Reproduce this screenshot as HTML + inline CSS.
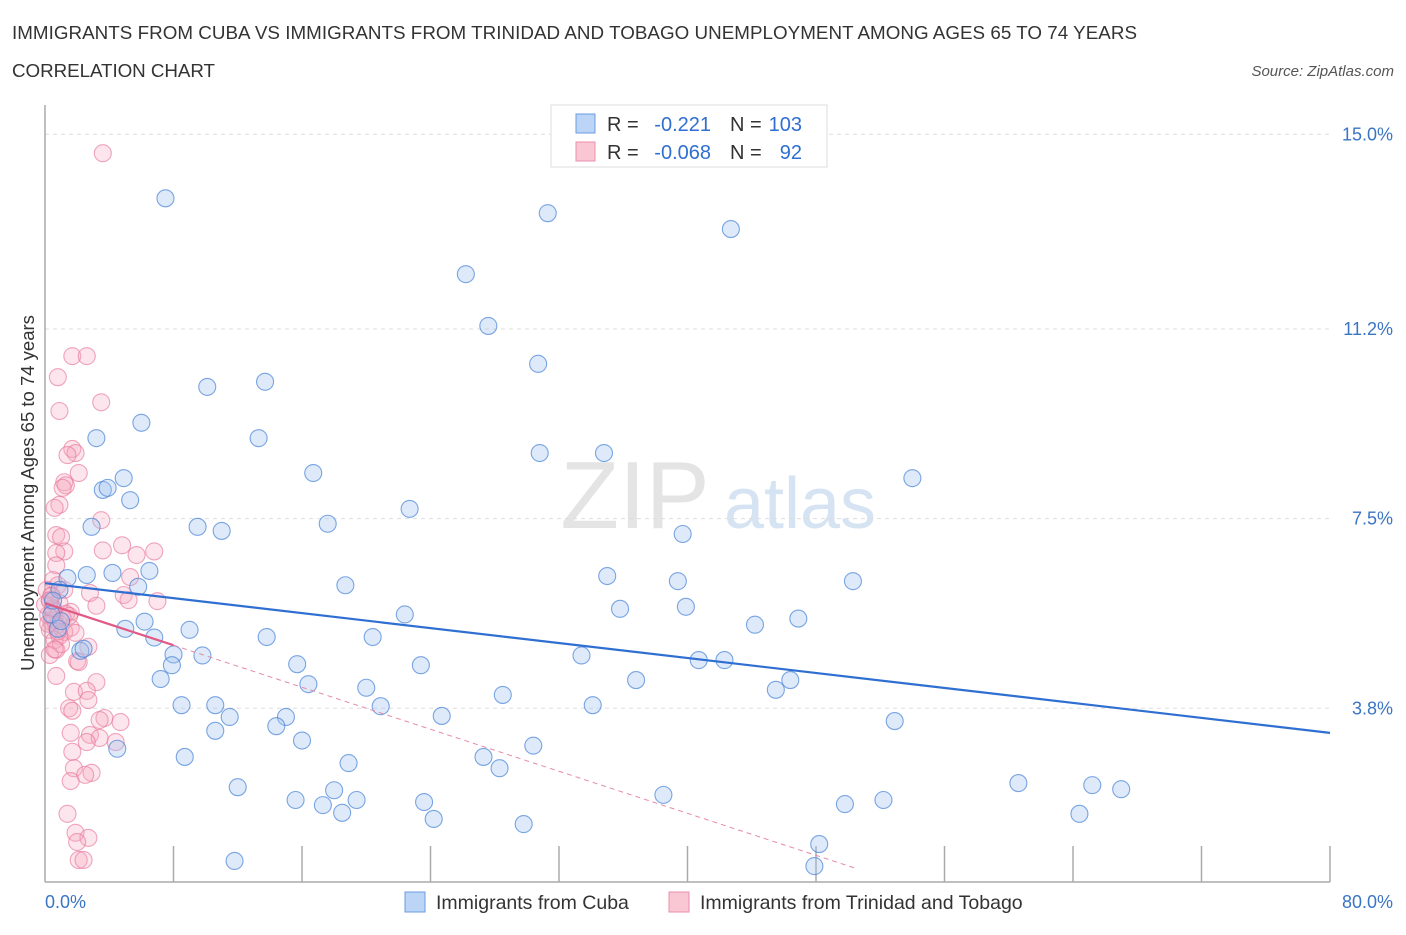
<!DOCTYPE html>
<html><head><meta charset="utf-8">
<style>
body{margin:0;background:#fff;font-family:"Liberation Sans",sans-serif;}
svg text{font-family:"Liberation Sans",sans-serif;}
</style></head>
<body>
<svg width="1406" height="930" viewBox="0 0 1406 930">
<text x="12" y="39" font-size="18.8" fill="#333" textLength="1125">IMMIGRANTS FROM CUBA VS IMMIGRANTS FROM TRINIDAD AND TOBAGO UNEMPLOYMENT AMONG AGES 65 TO 74 YEARS</text>
<text x="12" y="77" font-size="18.8" fill="#333" textLength="203">CORRELATION CHART</text>
<text x="1394" y="76" font-size="15" fill="#555" font-style="italic" text-anchor="end">Source: ZipAtlas.com</text>
<g>
<text x="635" y="528" font-size="96" fill="#e4e4e4" font-family="Liberation Serif" text-anchor="middle">ZIP</text>
<text x="800" y="528" font-size="72" fill="#d6e3f3" text-anchor="middle">atlas</text>
</g>
<g id="grid"></g>
<g id="axes"></g>
<g id="pinkPts"></g>
<g id="bluePts"></g>
<g id="trends"></g>
<text x="34" y="493" font-size="18.5" fill="#333" text-anchor="middle" transform="rotate(-90 34 493)">Unemployment Among Ages 65 to 74 years</text>
<text x="45" y="908" font-size="18" fill="#3a75c4">0.0%</text>
<text x="1393" y="908" font-size="18" fill="#3a75c4" text-anchor="end">80.0%</text>
<g>
<rect x="551" y="105" width="276" height="62" fill="#fff" stroke="#ddd"/>
<rect x="576" y="114" width="19" height="19" fill="#bcd4f5" stroke="#6a9be0"/>
<rect x="576" y="142" width="19" height="19" fill="#f9c6d4" stroke="#eb8fab"/>
<text x="607" y="131" font-size="20" fill="#333">R =</text>
<text x="711" y="131" font-size="20" fill="#2f6fd1" text-anchor="end">-0.221</text>
<text x="730" y="131" font-size="20" fill="#333">N =</text>
<text x="802" y="131" font-size="20" fill="#2f6fd1" text-anchor="end">103</text>
<text x="607" y="159" font-size="20" fill="#333">R =</text>
<text x="711" y="159" font-size="20" fill="#2f6fd1" text-anchor="end">-0.068</text>
<text x="730" y="159" font-size="20" fill="#333">N =</text>
<text x="802" y="159" font-size="20" fill="#2f6fd1" text-anchor="end">92</text>
</g>
<g>
<rect x="405" y="892" width="20" height="20" fill="#bcd4f5" stroke="#6a9be0"/>
<text x="436" y="909" font-size="19.5" fill="#333">Immigrants from Cuba</text>
<rect x="669" y="892" width="20" height="20" fill="#f9c6d4" stroke="#eb8fab"/>
<text x="700" y="909" font-size="19.5" fill="#333">Immigrants from Trinidad and Tobago</text>
</g>
</svg>
<script>
const yTicks=[3.8,7.5,11.2,15.0];
const yTickLabels=["3.8%","7.5%","11.2%","15.0%"];
const cubaX=[7.5,31.3,42.7,26.2,27.6,30.7,10.1,13.7,6.0,3.2,13.3,30.8,34.8,16.7,54.0,4.9,3.6,3.9,5.3,22.7,17.6,9.5,11.0,2.9,39.7,6.5,2.6,4.2,1.4,35.0,39.4,50.3,18.7,5.8,0.9,39.9,35.8,22.4,46.9,44.2,6.2,5.0,9.0,0.4,6.8,13.8,20.4,0.8,2.2,2.4,8.0,9.8,33.4,7.9,15.7,23.4,40.7,42.3,46.4,7.2,36.8,16.4,20.0,45.5,28.5,8.5,10.6,20.9,34.1,11.5,15.0,24.7,52.9,10.6,14.4,16.0,4.5,30.4,8.7,27.3,18.9,28.3,12.0,60.6,65.2,67.0,38.5,15.6,18.0,17.3,19.4,23.6,49.8,52.2,18.5,24.2,64.4,29.8,48.2,11.8,47.9,0.5,1.0];
const cubaY=[13.75,13.46,13.15,12.27,11.26,10.52,10.07,10.17,9.37,9.07,9.07,8.78,8.78,8.39,8.29,8.29,8.06,8.1,7.86,7.69,7.4,7.34,7.26,7.34,7.2,6.48,6.4,6.44,6.34,6.38,6.28,6.28,6.2,6.17,6.11,5.78,5.74,5.63,5.55,5.43,5.49,5.35,5.33,5.63,5.18,5.19,5.19,5.35,4.92,4.96,4.85,4.83,4.83,4.64,4.66,4.64,4.74,4.74,4.35,4.37,4.35,4.27,4.2,4.16,4.06,3.86,3.86,3.84,3.86,3.63,3.63,3.65,3.55,3.36,3.45,3.17,3.01,3.07,2.85,2.85,2.73,2.63,2.26,2.34,2.3,2.22,2.11,2.01,2.2,1.91,2.01,1.97,1.93,2.01,1.76,1.64,1.74,1.54,1.15,0.82,0.72,5.9,5.5];
const trinX=[3.6,1.7,2.6,0.8,3.5,0.9,1.7,1.9,1.4,2.1,1.2,1.3,1.1,0.9,0.6,3.5,0.7,1.0,4.8,3.6,6.8,5.7,1.2,0.7,0.7,5.3,0.5,0.8,1.2,2.8,4.9,0.4,0.3,7.0,5.2,3.2,0.9,0.5,1.6,1.3,1.1,0.4,0.7,1.6,1.2,0.3,0.9,1.9,2.7,0.7,2.0,2.1,0.7,3.2,1.8,2.6,2.7,1.5,1.7,3.7,3.4,4.7,1.6,2.8,3.4,4.4,2.6,1.7,1.8,2.9,2.5,1.6,1.4,1.9,2.7,2.0,2.1,2.4,0.6,0.2,0.1,0.0,0.6,0.3,0.5,0.2,1.0,0.4,0.8,0.3,0.6,1.5];
const trinY=[14.63,10.67,10.67,10.26,9.77,9.6,8.86,8.78,8.74,8.39,8.21,8.15,8.1,7.77,7.71,7.47,7.18,7.14,6.98,6.88,6.86,6.79,6.86,6.83,6.59,6.36,6.3,6.2,6.11,6.05,6.01,5.99,5.91,5.89,5.91,5.8,5.85,5.72,5.68,5.64,5.56,5.48,5.41,5.37,5.29,5.33,5.21,5.27,5.0,4.94,4.72,4.7,4.43,4.31,4.12,4.14,3.96,3.8,3.75,3.61,3.57,3.53,3.32,3.28,3.22,3.14,3.14,2.95,2.63,2.54,2.5,2.38,1.74,1.37,1.27,1.19,0.84,0.84,5.52,5.62,6.11,5.82,5.13,4.84,5.75,5.45,5.05,6.0,5.3,5.9,4.95,5.6];
const cubaTrend=[6.24,3.32];   // y at x=0 and x=80
const trinTrend=[5.85,-0.1025]; // intercept, slope
const trinSolidEnd=8;
const trinDashEnd=50.5;
const NS="http://www.w3.org/2000/svg";
const X0=45,X1=1330,YB=882;
function xs(v){return X0+(v/80)*(X1-X0);}
function ys(v){return 903-v*51.25;}
function mk(tag,attrs,parent){const e=document.createElementNS(NS,tag);for(const k in attrs)e.setAttribute(k,attrs[k]);parent.appendChild(e);return e;}
const grid=document.getElementById('grid');
yTicks.forEach((t,i)=>{
 const l=mk('line',{x1:X0,x2:X1,y1:ys(t),y2:ys(t),stroke:'#ddd','stroke-dasharray':'4 4'},grid);
 
 
 const tx=mk('text',{x:1393,y:ys(t)+6,'font-size':18,fill:'#3a75c4','text-anchor':'end'},grid);
 tx.textContent=yTickLabels[i];
 
 
});
const axes=document.getElementById('axes');
const ya=mk('line',{x1:X0,x2:X0,y1:105,y2:YB,stroke:'#aaa','stroke-width':1.5},axes);


const xa=mk('line',{x1:X0,x2:X1,y1:YB,y2:YB,stroke:'#aaa','stroke-width':1.5},axes);


for(let i=1;i<=10;i++){
 const t=mk('line',{x1:xs(i*8),x2:xs(i*8),y1:YB-36,y2:YB,stroke:'#aaa','stroke-width':1.5},axes);
 
 
}
function pts(xa,ya,g,fill,stroke){
 for(let i=0;i<xa.length;i++){
  const c=mk('circle',{cx:xs(xa[i]),cy:ys(ya[i]),r:8.5,fill:fill,stroke:stroke,'stroke-width':1.1},g);
  
  
 }
}
pts(trinX,trinY,document.getElementById('pinkPts'),'rgba(246,170,193,0.3)','rgba(232,120,155,0.65)');
pts(cubaX,cubaY,document.getElementById('bluePts'),'rgba(160,195,238,0.35)','rgba(70,130,215,0.7)');
const tr=document.getElementById('trends');
const bl=mk('line',{x1:xs(0),y1:ys(cubaTrend[0]),x2:xs(80),y2:ys(cubaTrend[1]),stroke:'#2f6fd1','stroke-width':2.2},tr);


const ps=mk('line',{x1:xs(0),y1:ys(trinTrend[0]),x2:xs(trinSolidEnd),y2:ys(trinTrend[0]+trinTrend[1]*trinSolidEnd),stroke:'#e05a85','stroke-width':2.2},tr);


const pd=mk('line',{x1:xs(trinSolidEnd),y1:ys(trinTrend[0]+trinTrend[1]*trinSolidEnd),x2:xs(trinDashEnd),y2:ys(trinTrend[0]+trinTrend[1]*trinDashEnd),stroke:'#e78aa8','stroke-width':1,'stroke-dasharray':'5 4'},tr);


</script>
</body></html>
